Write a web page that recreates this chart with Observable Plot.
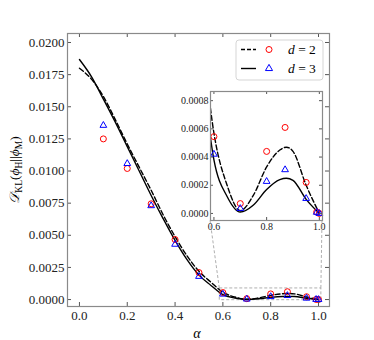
<!DOCTYPE html>
<html><head><meta charset="utf-8">
<script src="https://cdn.jsdelivr.net/npm/d3@7"></script>
<script src="https://cdn.jsdelivr.net/npm/@observablehq/plot@0.6"></script>
<style>
body{margin:0;background:#fff;}
#wrap{position:relative;width:374px;height:340px;overflow:hidden;background:#fff;}
#wrap svg{position:absolute;}
</style></head><body><div id="wrap"></div>
<script>
// ---- data ----
const alphaCurve = [0, 0.05, 0.1, 0.15, 0.2, 0.25, 0.3, 0.35, 0.4, 0.45, 0.5, 0.55, 0.6, 0.65, 0.7, 0.75, 0.8, 0.85, 0.875, 0.9, 0.95, 1.0];
const klCurveD2 = [0.0180, 0.01715, 0.0158, 0.0140, 0.0121, 0.0103, 0.0085, 0.0066, 0.0049, 0.0034, 0.0022, 0.00135, 0.00057, 0.00020, 0.00002, 0.00013, 0.00033, 0.00045, 0.00047, 0.00044, 0.00020, 0.0];
const klCurveD3 = [0.01868, 0.01735, 0.0156, 0.0138, 0.0119, 0.0100, 0.0081, 0.0063, 0.0046, 0.0031, 0.0019, 0.0011, 0.00038, 0.00012, 0.00001, 0.00006, 0.00017, 0.00024, 0.00025, 0.000235, 0.00010, 0.0];
const alphaPts = [0.1, 0.2, 0.3, 0.4, 0.5, 0.6, 0.7, 0.8, 0.87, 0.95, 0.99, 1.0];
const klPtsD2 = [0.0125, 0.0102, 0.00745, 0.00467, 0.0021, 0.000545, 0.00007, 0.00044, 0.00061, 0.00022, 0.00001, 0.0];
const klPtsD3 = [0.01355, 0.01058, 0.0073, 0.0043, 0.0018, 0.00042, 0.000035, 0.000227, 0.00031, 0.000106, 0.000008, 0.0];
const mainXTicks = [0, 0.2, 0.4, 0.6, 0.8, 1.0];
const mainYTicks = [0, 0.0025, 0.005, 0.0075, 0.01, 0.0125, 0.015, 0.0175, 0.02];
const insetXTicks = [0.6, 0.8, 1.0];
const insetYTicks = [0, 0.0002, 0.0004, 0.0006, 0.0008];
const mainXLim = [-0.05, 1.046];
const mainYLim = [-0.00054, 0.0207];
const insetXLim = [0.587, 1.012];
const insetYLim = [-0.00005, 0.000865];
const legendLabels = ["2", "3"];

// ---- tables ----
const curves = alphaCurve.map((a, i) => ({a, d2: klCurveD2[i], d3: klCurveD3[i]}));
const pts = alphaPts.map((a, i) => ({a, d2: klPtsD2[i], d3: klPtsD3[i]}));
const zoomBox = [{x1: insetXLim[0], x2: insetXLim[1], y1: insetYLim[0], y2: insetYLim[1]}];

const FONT = "Liberation Serif";
const frameCol = "#8a8a8a";
const tickCol = "#555";
const CURVE = "monotone-x";

// ---- main plot ----
const M = {l: 67, r: 45, t: 33, b: 34, W: 374, H: 340};
const fw = M.W - M.l - M.r, fh = M.H - M.t - M.b;
const TL = 4;
const main = Plot.plot({
  width: M.W, height: M.H,
  marginLeft: M.l, marginRight: M.r, marginTop: M.t, marginBottom: M.b,
  style: {fontFamily: FONT, fontSize: "13px", background: "transparent", color: "#222"},
  x: {domain: mainXLim, ticks: mainXTicks, tickFormat: d3.format(".1f"), tickSize: 0, tickPadding: 4, label: null},
  y: {domain: mainYLim, ticks: mainYTicks, tickFormat: d3.format(".4f"), tickSize: 0, tickPadding: 3, label: null},
  marks: [
    Plot.rect(zoomBox, {x1: "x1", x2: "x2", y1: "y1", y2: "y2", fill: "none", stroke: "#9a9a9a", strokeWidth: 0.8, strokeDasharray: "3,2"}),
    Plot.line(curves, {x: "a", y: "d2", curve: CURVE, stroke: "black", strokeWidth: 1.4, strokeDasharray: "5,2.5"}),
    Plot.line(curves, {x: "a", y: "d3", curve: CURVE, stroke: "black", strokeWidth: 1.4}),
    Plot.dot(pts, {x: "a", y: "d2", symbol: "circle", r: 3, stroke: "red", fill: "none", strokeWidth: 1}),
    Plot.dot(pts, {x: "a", y: "d3", symbol: "triangle", r: 2.5, stroke: "blue", fill: "none", strokeWidth: 1}),
    Plot.tickX(mainXTicks, {x: d => d, insetTop: fh - TL, stroke: tickCol}),
    Plot.tickX(mainXTicks, {x: d => d, insetBottom: fh - TL, stroke: tickCol}),
    Plot.tickY(mainYTicks, {y: d => d, insetRight: fw - TL, stroke: tickCol}),
    Plot.tickY(mainYTicks, {y: d => d, insetLeft: fw - TL, stroke: tickCol}),
    Plot.frame({stroke: frameCol, strokeWidth: 1.2})
  ]
});
main.style.left = "0px"; main.style.top = "0px";
document.getElementById("wrap").appendChild(main);

// ---- inset plot ----
const I = {x: 210, y: 91, w: 112, h: 129, l: 36, r: 4, t: 4, b: 16};
const ITL = 3;
const inset = Plot.plot({
  width: I.l + I.w + I.r, height: I.t + I.h + I.b,
  marginLeft: I.l, marginRight: I.r, marginTop: I.t, marginBottom: I.b,
  style: {fontFamily: FONT, fontSize: "10px", background: "transparent", color: "#222"},
  x: {domain: insetXLim, ticks: insetXTicks, tickFormat: d3.format(".1f"), tickSize: 0, tickPadding: 2, label: null},
  y: {domain: insetYLim, ticks: insetYTicks, tickFormat: d3.format(".4f"), tickSize: 0, tickPadding: 2, label: null},
  marks: [
    Plot.frame({fill: "white"}),
    Plot.line(curves, {x: "a", y: "d2", curve: CURVE, stroke: "black", strokeWidth: 1.4, strokeDasharray: "5,2.5", clip: true}),
    Plot.line(curves, {x: "a", y: "d3", curve: CURVE, stroke: "black", strokeWidth: 1.4, clip: true}),
    Plot.dot(pts, {x: "a", y: "d2", symbol: "circle", r: 3, stroke: "red", fill: "none", strokeWidth: 1}),
    Plot.dot(pts, {x: "a", y: "d3", symbol: "triangle", r: 2.5, stroke: "blue", fill: "none", strokeWidth: 1}),
    Plot.tickX(insetXTicks, {x: d => d, insetTop: I.h - ITL, stroke: tickCol}),
    Plot.tickX(insetXTicks, {x: d => d, insetBottom: I.h - ITL, stroke: tickCol}),
    Plot.tickY(insetYTicks, {y: d => d, insetRight: I.w - ITL, stroke: tickCol}),
    Plot.tickY(insetYTicks, {y: d => d, insetLeft: I.w - ITL, stroke: tickCol}),
    Plot.frame({stroke: frameCol, strokeWidth: 1.2})
  ]
});
inset.style.left = (I.x - I.l) + "px"; inset.style.top = (I.y - I.t) + "px";
document.getElementById("wrap").appendChild(inset);

// ---- overlay: connectors, labels, legend ----
const sx = d3.scaleLinear(mainXLim, [M.l, M.W - M.r]);
const sy = d3.scaleLinear(mainYLim, [M.H - M.b, M.t]);
const ov = d3.select("#wrap").append("svg")
  .attr("width", 374).attr("height", 340)
  .style("left", "0px").style("top", "0px")
  .style("font-family", FONT);
const conn = [
  [sx(insetXLim[0]), sy(insetYLim[1]), I.x, I.y + I.h],
  [sx(insetXLim[1]), sy(insetYLim[1]), I.x + I.w, I.y + I.h]
];
ov.selectAll("line.c").data(conn).join("line")
  .attr("x1", d => d[0]).attr("y1", d => d[1]).attr("x2", d => d[2]).attr("y2", d => d[3])
  .attr("stroke", "#9a9a9a").attr("stroke-width", 0.8).attr("stroke-dasharray", "3,2");

// x label
ov.append("text").attr("x", 197).attr("y", 338).attr("text-anchor", "middle")
  .attr("font-size", 14).attr("font-style", "italic").text("α");

// y label
const yl = ov.append("text").attr("transform", "translate(19,170) rotate(-90)")
  .attr("text-anchor", "middle").attr("font-size", 13.5);
yl.append("tspan").attr("font-style", "italic").text("𝒟");
yl.append("tspan").attr("font-size", 9.5).attr("dy", 2.5).text("KL");
yl.append("tspan").attr("dy", -2.5).text("(");
yl.append("tspan").attr("font-style", "italic").text("ϕ");
yl.append("tspan").attr("font-size", 9.5).attr("dy", 2.5).text("H");
yl.append("tspan").attr("dy", -2.5).text("||");
yl.append("tspan").attr("font-style", "italic").text("ϕ");
yl.append("tspan").attr("font-size", 9.5).attr("dy", 2.5).text("M");
yl.append("tspan").attr("dy", -2.5).text(")");

// legend
const lg = ov.append("g");
lg.append("rect").attr("x", 236).attr("y", 40).attr("width", 87).attr("height", 40).attr("rx", 3)
  .attr("fill", "white").attr("fill-opacity", 0.85).attr("stroke", "#d0d0d0").attr("stroke-width", 0.9);
const rows = [
  {y: 49.5, dash: "4,2", mark: "circle", col: "red", lab: legendLabels[0]},
  {y: 68.5, dash: null, mark: "triangle", col: "blue", lab: legendLabels[1]}
];
rows.forEach(r => {
  lg.append("line").attr("x1", 241).attr("x2", 256).attr("y1", r.y).attr("y2", r.y)
    .attr("stroke", "black").attr("stroke-width", 1.4).attr("stroke-dasharray", r.dash);
  if (r.mark === "circle") {
    lg.append("circle").attr("cx", 269).attr("cy", r.y).attr("r", 3).attr("fill", "none").attr("stroke", r.col);
  } else {
    lg.append("path").attr("d", d3.symbol(d3.symbolTriangle, 22)()).attr("transform", `translate(269,${r.y})`)
      .attr("fill", "none").attr("stroke", r.col);
  }
  const t = lg.append("text").attr("x", 288).attr("y", r.y + 4.5).attr("font-size", 13.5);
  t.append("tspan").attr("font-style", "italic").text("d");
  t.append("tspan").text(" = " + r.lab);
});
</script></body></html>
